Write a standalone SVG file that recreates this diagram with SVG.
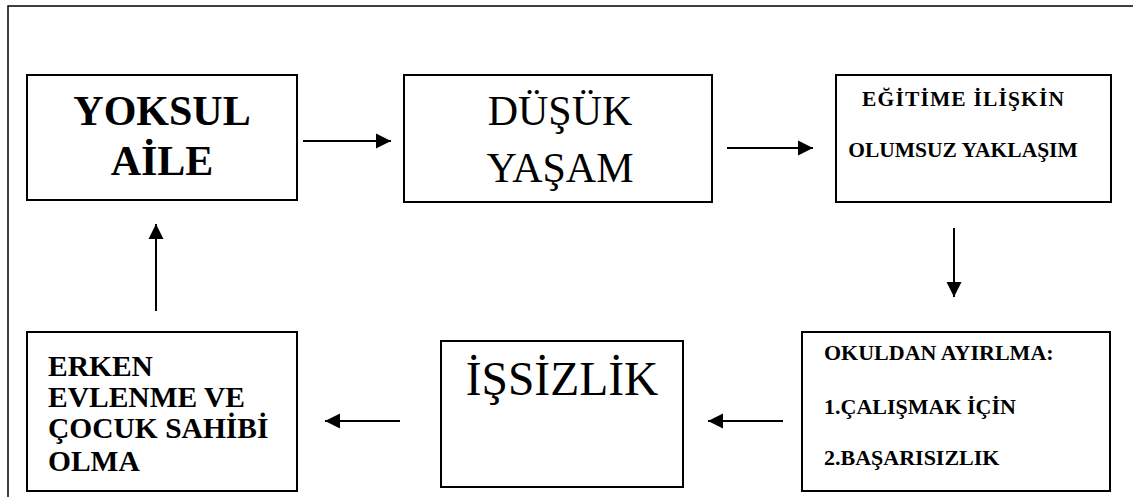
<svg xmlns="http://www.w3.org/2000/svg" width="1133" height="497" viewBox="0 0 1133 497" font-family="'Liberation Serif', 'DejaVu Serif', serif">
<style>
.box{fill:#fff;stroke:#000;stroke-width:2}
.frame{fill:none;stroke:#000;stroke-width:1.5}
.conn{stroke:#000;stroke-width:2;fill:none;marker-end:url(#ah)}
.b{font-weight:bold}
.c{text-anchor:middle}
</style>
<defs>
<marker id="ah" markerUnits="userSpaceOnUse" markerWidth="16" markerHeight="16" viewBox="0 0 16 16" refX="15" refY="8" orient="auto">
<path d="M0,0.5 L15,8 L0,15.5 Z" fill="#000"/>
</marker>
</defs>
<rect class="frame" x="8" y="6" width="1140" height="510"/>
<g id="connectors">
<line class="conn" x1="303" y1="141" x2="391" y2="141"/>
<line class="conn" x1="727" y1="148" x2="813" y2="148"/>
<line class="conn" x1="954" y1="228" x2="954" y2="297"/>
<line class="conn" x1="783" y1="421" x2="708" y2="421"/>
<line class="conn" x1="400" y1="421" x2="325" y2="421"/>
<line class="conn" x1="156" y1="311" x2="156" y2="224"/>
</g>
<g id="yoksul-aile">
<rect class="box" x="27" y="75" width="270" height="125"/>
<text class="b c" x="162" y="125" font-size="42">YOKSUL</text>
<text class="b c" x="162" y="175" font-size="42">AİLE</text>
</g>
<g id="dusuk-yasam">
<rect class="box" x="404" y="75" width="308" height="127"/>
<text class="c" x="560" y="125" font-size="42">DÜŞÜK</text>
<text class="c" x="560" y="182" font-size="42">YAŞAM</text>
</g>
<g id="egitime-iliskin">
<rect class="box" x="836" y="75" width="275" height="127"/>
<text class="b c" x="963" y="106" font-size="21.5" textLength="202" lengthAdjust="spacing">EĞİTİME İLİŞKİN</text>
<text class="b c" x="963" y="157" font-size="21.5">OLUMSUZ YAKLAŞIM</text>
</g>
<g id="okuldan-ayirilma">
<rect class="box" x="802" y="332" width="308" height="159"/>
<text class="b" x="824" y="360" font-size="22">OKULDAN AYIRLMA:</text>
<text class="b" x="824" y="414" font-size="22">1.ÇALIŞMAK İÇİN</text>
<text class="b" x="824" y="465" font-size="22">2.BAŞARISIZLIK</text>
</g>
<g id="issizlik">
<rect class="box" x="441" y="341" width="242" height="146"/>
<text class="c" x="562" y="395" font-size="47.5">İŞSİZLİK</text>
</g>
<g id="erken-evlenme">
<rect class="box" x="27" y="332" width="270" height="159"/>
<text class="b" x="48" y="376" font-size="29.5">ERKEN</text>
<text class="b" x="48" y="407" font-size="29.5">EVLENME VE</text>
<text class="b" x="48" y="438" font-size="29.5">ÇOCUK SAHİBİ</text>
<text class="b" x="48" y="471" font-size="29.5">OLMA</text>
</g>
</svg>
